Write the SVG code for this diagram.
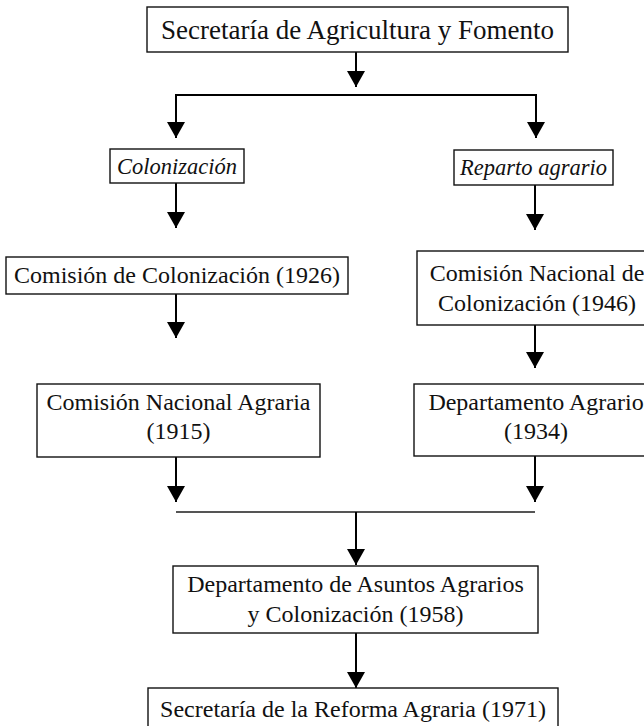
<svg xmlns="http://www.w3.org/2000/svg" width="644" height="726" viewBox="0 0 644 726">
<defs>
<marker id="ah" markerUnits="userSpaceOnUse" markerWidth="16" markerHeight="18" refX="16" refY="9" orient="auto" viewBox="0 0 16 18">
<path d="M0,0 L16,9 L0,18 Z" fill="#000"/>
</marker>
</defs>
<style>
.box{fill:#fff;stroke:#111;stroke-width:1.4}
.t{font-family:"Liberation Serif","Times New Roman",serif;font-size:24px;fill:#111;text-anchor:middle}
.big{font-size:27px}
.it{font-style:italic;font-size:22.5px}
.c{stroke:#000;stroke-width:2;fill:none}
.g{stroke:#555;stroke-width:2;fill:none}
</style>
<rect width="644" height="726" fill="#fff"/>
<g id="connectors">
<line class="c" x1="356" y1="52" x2="356" y2="87" marker-end="url(#ah)"/>
<path class="c" d="M176,138 L176,95 L536,95 L536,138" />
<line class="c" x1="176" y1="120" x2="176" y2="138" marker-end="url(#ah)"/>
<line class="c" x1="536" y1="120" x2="536" y2="138" marker-end="url(#ah)"/>
<line class="c" x1="176" y1="183" x2="176" y2="228" marker-end="url(#ah)"/>
<line class="c" x1="535" y1="185" x2="535" y2="230" marker-end="url(#ah)"/>
<line class="c" x1="176" y1="294" x2="176" y2="338" marker-end="url(#ah)"/>
<line class="c" x1="535" y1="325" x2="535" y2="368" marker-end="url(#ah)"/>
<line class="c" x1="176" y1="457" x2="176" y2="502" marker-end="url(#ah)"/>
<line class="c" x1="535" y1="456" x2="535" y2="502" marker-end="url(#ah)"/>
<line class="g" x1="176" y1="512" x2="535" y2="512"/>
<line class="c" x1="356" y1="512" x2="356" y2="565" marker-end="url(#ah)"/>
<line class="c" x1="356" y1="633" x2="356" y2="688" marker-end="url(#ah)"/>
</g>
<g id="n-sagf">
<rect class="box" x="147" y="7" width="421" height="45"/>
<text class="t big" x="357.5" y="39">Secretaría de Agricultura y Fomento</text>
</g>
<g id="n-colonizacion">
<rect class="box" x="110" y="149" width="134" height="34"/>
<text class="t it" x="177" y="174">Colonización</text>
</g>
<g id="n-reparto">
<rect class="box" x="454" y="150" width="159" height="35"/>
<text class="t it" x="533.5" y="175">Reparto agrario</text>
</g>
<g id="n-cc1926">
<rect class="box" x="6" y="257" width="342" height="37"/>
<text class="t" x="177" y="283">Comisión de Colonización (1926)</text>
</g>
<g id="n-cnc1946">
<rect class="box" x="417" y="251" width="240" height="74"/>
<text class="t" x="537" y="281">Comisión Nacional de</text>
<text class="t" x="537" y="311">Colonización (1946)</text>
</g>
<g id="n-cna1915">
<rect class="box" x="37" y="384" width="283" height="73"/>
<text class="t" x="178.5" y="410">Comisión Nacional Agraria</text>
<text class="t" x="178.5" y="439">(1915)</text>
</g>
<g id="n-da1934">
<rect class="box" x="414" y="384" width="244" height="72"/>
<text class="t" x="536" y="410">Departamento Agrario</text>
<text class="t" x="536" y="439">(1934)</text>
</g>
<g id="n-daac1958">
<rect class="box" x="173" y="566" width="365" height="67"/>
<text class="t" x="355.5" y="592">Departamento de Asuntos Agrarios</text>
<text class="t" x="355.5" y="622">y Colonización (1958)</text>
</g>
<g id="n-sra1971">
<rect class="box" x="148" y="688" width="410" height="45"/>
<text class="t" x="353" y="717">Secretaría de la Reforma Agraria (1971)</text>
</g>
</svg>
